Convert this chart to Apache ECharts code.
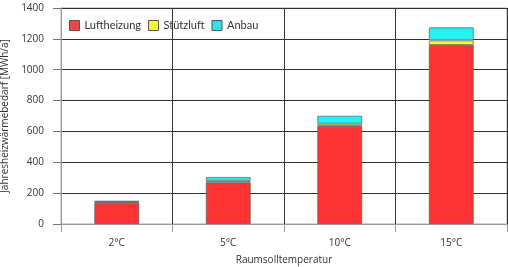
<!DOCTYPE html>
<html><head><meta charset="utf-8">
<script src="https://cdn.jsdelivr.net/npm/echarts@6/dist/echarts.min.js"></script>
<style>html,body{margin:0;padding:0;background:#fff}#c{width:508px;height:267px}</style>
</head><body><div id="c"></div>
<script>
const categories = ['2°C', '5°C', '10°C', '15°C'];
const luftheizung = [138, 270, 635, 1160];
const stuetzluft = [5, 10, 15, 30];
const anbau = [8, 25, 52, 85];
const yTicks = [0, 200, 400, 600, 800, 1000, 1200, 1400];

const font = 'Open Sans';
const chart = echarts.init(document.getElementById('c'), null, {renderer: 'canvas'});
const barStyle = (c) => ({color: c, borderColor: 'rgba(90,90,90,0.7)', borderWidth: 1});
chart.setOption({
  animation: false,
  textStyle: {fontFamily: font},
  grid: {left: 61, right: 1, top: 8, bottom: 43, show: true, borderColor: '#aaa', borderWidth: 1,
    containLabel: false, outerBoundsMode: 'none'},
  legend: {
    left: 64, top: 15, itemWidth: 10, itemHeight: 10, itemGap: 7,
    icon: 'rect',
    textStyle: {fontFamily: 'Lato', fontSize: 11, color: '#333'},
    data: [
      {name: 'Luftheizung', itemStyle: {color: '#e84a4a', borderColor: '#555', borderWidth: 1}},
      {name: 'Stützluft', itemStyle: {color: '#f5f53a', borderColor: '#555', borderWidth: 1}},
      {name: 'Anbau', itemStyle: {color: '#33e0e8', borderColor: '#555', borderWidth: 1}}
    ]
  },
  xAxis: {
    type: 'category', data: categories,
    name: 'Raumsolltemperatur', nameLocation: 'middle', nameGap: 31,
    nameTextStyle: {fontFamily: font, fontSize: 10, color: '#333'},
    axisLine: {lineStyle: {color: '#999', width: 1}},
    axisTick: {show: true, length: 8, lineStyle: {color: '#999'}},
    axisLabel: {fontFamily: font, fontSize: 10, color: '#333', margin: 14},
    splitLine: {show: true, lineStyle: {color: '#333', width: 1}}
  },
  yAxis: {
    type: 'value', min: 0, max: 1400, interval: 200,
    name: 'Jahresheizwärmebedarf [MWh/a]', nameLocation: 'middle', nameGap: 43,
    nameTextStyle: {fontFamily: font, fontSize: 10, color: '#333'},
    axisLine: {show: true, lineStyle: {color: '#999', width: 1}},
    axisTick: {show: true, length: 8, lineStyle: {color: '#777'}},
    axisLabel: {fontFamily: font, fontSize: 10, color: '#333', margin: 17,
      formatter: (v) => yTicks.includes(v) ? String(v) : ''},
    splitLine: {show: true, lineStyle: {color: '#333', width: 1}}
  },
  series: [
    {name: 'Luftheizung', type: 'bar', stack: 's', data: luftheizung, barWidth: 45, itemStyle: barStyle('#ff3333')},
    {name: 'Stützluft', type: 'bar', stack: 's', data: stuetzluft, barWidth: 45, itemStyle: barStyle('#f8f833')},
    {name: 'Anbau', type: 'bar', stack: 's', data: anbau, barWidth: 45, itemStyle: barStyle('#22f4f4')}
  ]
});
</script></body></html>
